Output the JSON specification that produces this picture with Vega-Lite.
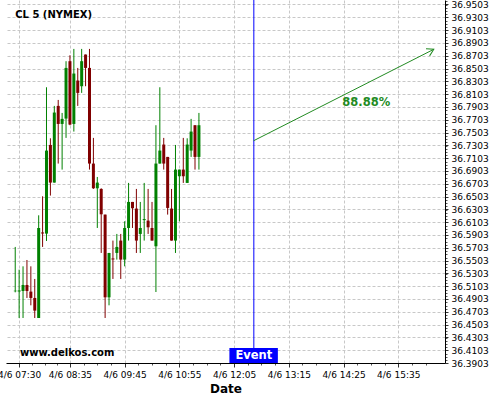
{
  "$schema": "https://vega.github.io/schema/vega-lite/v6.json",
  "width": 439,
  "height": 363,
  "autosize": {"type": "none"},
  "padding": {"left": 6, "top": 0, "right": 55, "bottom": 37},
  "background": "#ffffff",
  "config": {"view": {"stroke": null}, "font": "DejaVu Sans"},
  "datasets": {
    "candles": [
      {"t": "2024-04-06T07:25", "o": 36.5024, "h": 36.5716, "l": 36.5007, "c": 36.5032},
      {"t": "2024-04-06T07:30", "o": 36.5020, "h": 36.5361, "l": 36.4606, "c": 36.5036},
      {"t": "2024-04-06T07:35", "o": 36.5028, "h": 36.5413, "l": 36.4606, "c": 36.5122},
      {"t": "2024-04-06T07:40", "o": 36.5122, "h": 36.5512, "l": 36.4919, "c": 36.5028},
      {"t": "2024-04-06T07:45", "o": 36.5018, "h": 36.5413, "l": 36.4804, "c": 36.4919},
      {"t": "2024-04-06T07:50", "o": 36.4919, "h": 36.5216, "l": 36.4606, "c": 36.4721},
      {"t": "2024-04-06T07:55", "o": 36.4606, "h": 36.6210, "l": 36.4606, "c": 36.6012},
      {"t": "2024-04-06T08:00", "o": 36.5942, "h": 36.6507, "l": 36.5716, "c": 36.5926},
      {"t": "2024-04-06T08:05", "o": 36.5924, "h": 36.8210, "l": 36.5809, "c": 36.7221},
      {"t": "2024-04-06T08:10", "o": 36.7309, "h": 36.7413, "l": 36.6518, "c": 36.6721},
      {"t": "2024-04-06T08:15", "o": 36.6721, "h": 36.7919, "l": 36.6721, "c": 36.7815},
      {"t": "2024-04-06T08:20", "o": 36.7919, "h": 36.8012, "l": 36.7018, "c": 36.7637},
      {"t": "2024-04-06T08:25", "o": 36.7637, "h": 36.7809, "l": 36.6924, "c": 36.7716},
      {"t": "2024-04-06T08:30", "o": 36.7721, "h": 36.8617, "l": 36.7419, "c": 36.8512},
      {"t": "2024-04-06T08:35", "o": 36.8617, "h": 36.8710, "l": 36.7617, "c": 36.7627},
      {"t": "2024-04-06T08:40", "o": 36.7637, "h": 36.8809, "l": 36.7518, "c": 36.8424},
      {"t": "2024-04-06T08:45", "o": 36.8315, "h": 36.8512, "l": 36.7919, "c": 36.8122},
      {"t": "2024-04-06T08:50", "o": 36.8226, "h": 36.8809, "l": 36.8122, "c": 36.8617},
      {"t": "2024-04-06T08:55", "o": 36.8721, "h": 36.8721, "l": 36.8226, "c": 36.8512},
      {"t": "2024-04-06T09:00", "o": 36.8512, "h": 36.8809, "l": 36.6924, "c": 36.7018},
      {"t": "2024-04-06T09:05", "o": 36.7018, "h": 36.7419, "l": 36.6622, "c": 36.6632},
      {"t": "2024-04-06T09:10", "o": 36.6632, "h": 36.6809, "l": 36.6012, "c": 36.6721},
      {"t": "2024-04-06T09:15", "o": 36.6622, "h": 36.6632, "l": 36.5622, "c": 36.6226},
      {"t": "2024-04-06T09:20", "o": 36.6221, "h": 36.6221, "l": 36.4606, "c": 36.4929},
      {"t": "2024-04-06T09:25", "o": 36.4929, "h": 36.5622, "l": 36.4804, "c": 36.5622},
      {"t": "2024-04-06T09:30", "o": 36.5536, "h": 36.5815, "l": 36.5216, "c": 36.5520},
      {"t": "2024-04-06T09:35", "o": 36.5622, "h": 36.5919, "l": 36.5518, "c": 36.5716},
      {"t": "2024-04-06T09:40", "o": 36.5815, "h": 36.5919, "l": 36.5216, "c": 36.5518},
      {"t": "2024-04-06T09:45", "o": 36.5518, "h": 36.6117, "l": 36.5413, "c": 36.6012},
      {"t": "2024-04-06T09:50", "o": 36.6012, "h": 36.6716, "l": 36.5815, "c": 36.6419},
      {"t": "2024-04-06T09:55", "o": 36.6419, "h": 36.6419, "l": 36.6012, "c": 36.6320},
      {"t": "2024-04-06T10:00", "o": 36.6315, "h": 36.6622, "l": 36.5622, "c": 36.5815},
      {"t": "2024-04-06T10:05", "o": 36.5919, "h": 36.6419, "l": 36.5622, "c": 36.6012},
      {"t": "2024-04-06T10:10", "o": 36.6135, "h": 36.6716, "l": 36.5815, "c": 36.6151},
      {"t": "2024-04-06T10:15", "o": 36.6127, "h": 36.6622, "l": 36.5919, "c": 36.6023},
      {"t": "2024-04-06T10:20", "o": 36.6012, "h": 36.6419, "l": 36.5815, "c": 36.5815},
      {"t": "2024-04-06T10:25", "o": 36.5726, "h": 36.7617, "l": 36.5012, "c": 36.7018},
      {"t": "2024-04-06T10:30", "o": 36.7018, "h": 36.8210, "l": 36.7018, "c": 36.7221},
      {"t": "2024-04-06T10:35", "o": 36.7315, "h": 36.7419, "l": 36.6924, "c": 36.7018},
      {"t": "2024-04-06T10:40", "o": 36.7122, "h": 36.7122, "l": 36.6221, "c": 36.6325},
      {"t": "2024-04-06T10:45", "o": 36.6315, "h": 36.6622, "l": 36.5815, "c": 36.5815},
      {"t": "2024-04-06T10:50", "o": 36.5815, "h": 36.7309, "l": 36.5622, "c": 36.6924},
      {"t": "2024-04-06T10:55", "o": 36.6820, "h": 36.6924, "l": 36.6117, "c": 36.6924},
      {"t": "2024-04-06T11:00", "o": 36.6924, "h": 36.7419, "l": 36.6716, "c": 36.6820},
      {"t": "2024-04-06T11:05", "o": 36.6716, "h": 36.7413, "l": 36.6716, "c": 36.7315},
      {"t": "2024-04-06T11:10", "o": 36.7221, "h": 36.7716, "l": 36.7122, "c": 36.7518},
      {"t": "2024-04-06T11:15", "o": 36.7617, "h": 36.7617, "l": 36.6924, "c": 36.7122},
      {"t": "2024-04-06T11:20", "o": 36.7122, "h": 36.7809, "l": 36.6924, "c": 36.7617}
    ],
    "event": [{"t": "2024-04-06T12:30:15", "t0": "2024-04-06T11:59", "t1": "2024-04-06T13:01", "y0": 36.3903, "y1": 36.4137, "ym": 36.4012, "label": "Event"}],
    "arrow": [
      {"t": "2024-04-06T12:30", "v": 36.7375},
      {"t": "2024-04-06T16:20:30", "v": 36.8803}
    ],
    "arrowhead": [{"t": "2024-04-06T16:20:30", "v": 36.8803}],
    "pct": [{"t": "2024-04-06T14:54", "v": 36.7969, "label": "88.88%"}],
    "title": [{"t": "2024-04-06T07:25", "v": 36.9331, "label": "CL 5 (NYMEX)"}],
    "mark": [{"t": "2024-04-06T07:31", "v": 36.4067, "label": "www.delkos.com"}]
  },
  "resolve": {"axis": {"x": "independent", "y": "independent"}},
  "layer": [
    {
      "data": {"name": "candles"},
      "mark": {"type": "point", "opacity": 0},
      "encoding": {
        "x": {"field": "t", "type": "temporal",
          "scale": {"domain": [{"year": 2024, "month": 4, "date": 6, "hours": 7, "minutes": 19, "seconds": 36}, {"year": 2024, "month": 4, "date": 6, "hours": 16, "minutes": 28, "seconds": 24}]},
          "axis": {"orient": "bottom", "grid": false, "labels": false, "title": null, "domain": false, "tickSize": 2, "tickColor": "#555555",
            "values": [
              {"year": 2024, "month": 4, "date": 6, "hours": 7, "minutes": 46, "seconds": 15},
              {"year": 2024, "month": 4, "date": 6, "hours": 8, "minutes": 2, "seconds": 30},
              {"year": 2024, "month": 4, "date": 6, "hours": 8, "minutes": 18, "seconds": 45},
              {"year": 2024, "month": 4, "date": 6, "hours": 8, "minutes": 52, "seconds": 30},
              {"year": 2024, "month": 4, "date": 6, "hours": 9, "minutes": 10},
              {"year": 2024, "month": 4, "date": 6, "hours": 9, "minutes": 27, "seconds": 30},
              {"year": 2024, "month": 4, "date": 6, "hours": 10, "minutes": 2, "seconds": 30},
              {"year": 2024, "month": 4, "date": 6, "hours": 10, "minutes": 20},
              {"year": 2024, "month": 4, "date": 6, "hours": 10, "minutes": 37, "seconds": 30},
              {"year": 2024, "month": 4, "date": 6, "hours": 11, "minutes": 12, "seconds": 30},
              {"year": 2024, "month": 4, "date": 6, "hours": 11, "minutes": 30},
              {"year": 2024, "month": 4, "date": 6, "hours": 11, "minutes": 47, "seconds": 30},
              {"year": 2024, "month": 4, "date": 6, "hours": 12, "minutes": 22, "seconds": 30},
              {"year": 2024, "month": 4, "date": 6, "hours": 12, "minutes": 40},
              {"year": 2024, "month": 4, "date": 6, "hours": 12, "minutes": 57, "seconds": 30},
              {"year": 2024, "month": 4, "date": 6, "hours": 13, "minutes": 32, "seconds": 30},
              {"year": 2024, "month": 4, "date": 6, "hours": 13, "minutes": 50},
              {"year": 2024, "month": 4, "date": 6, "hours": 14, "minutes": 7, "seconds": 30},
              {"year": 2024, "month": 4, "date": 6, "hours": 14, "minutes": 42, "seconds": 30},
              {"year": 2024, "month": 4, "date": 6, "hours": 15, "minutes": 0},
              {"year": 2024, "month": 4, "date": 6, "hours": 15, "minutes": 17, "seconds": 30},
              {"year": 2024, "month": 4, "date": 6, "hours": 15, "minutes": 52, "seconds": 30},
              {"year": 2024, "month": 4, "date": 6, "hours": 16, "minutes": 10}
            ]}},
        "y": {"field": "c", "type": "quantitative",
          "scale": {"domain": [36.3903, 36.9573], "zero": false, "nice": false},
          "axis": {"orient": "right", "grid": false, "labels": false, "title": null, "domain": false, "tickSize": 2, "tickColor": "#555555", "tickCount": 120}}
      }
    },
    {
      "data": {"name": "candles"},
      "mark": {"type": "rule", "strokeWidth": 1},
      "encoding": {
        "x": {"field": "t", "type": "temporal",
          "axis": {
            "orient": "bottom",
            "values": [
              {"year": 2024, "month": 4, "date": 6, "hours": 7, "minutes": 30},
              {"year": 2024, "month": 4, "date": 6, "hours": 8, "minutes": 35},
              {"year": 2024, "month": 4, "date": 6, "hours": 9, "minutes": 45},
              {"year": 2024, "month": 4, "date": 6, "hours": 10, "minutes": 55},
              {"year": 2024, "month": 4, "date": 6, "hours": 12, "minutes": 5},
              {"year": 2024, "month": 4, "date": 6, "hours": 13, "minutes": 15},
              {"year": 2024, "month": 4, "date": 6, "hours": 14, "minutes": 25},
              {"year": 2024, "month": 4, "date": 6, "hours": 15, "minutes": 35}
            ],
            "format": "%-m/%-d %H:%M",
            "labelFont": "DejaVu Sans", "labelFontSize": 9, "labelColor": "#000000",
            "labelPadding": 3, "labelOverlap": false, "labelFlush": false, "labelBound": false,
            "tickSize": 4, "tickColor": "#333333",
            "domainColor": "#000000", "domainWidth": 1,
            "grid": true, "gridColor": "#c8c8c8", "gridDash": [3, 2], "gridWidth": 1,
            "title": "Date", "titleFont": "DejaVu Sans", "titleFontSize": 12, "titleFontWeight": "bold", "titleColor": "#000000", "titlePadding": 4
          }},
        "y": {"field": "l", "type": "quantitative",
          "axis": {
            "orient": "right",
            "values": [36.3903, 36.4103, 36.4303, 36.4503, 36.4703, 36.4903, 36.5103, 36.5303, 36.5503, 36.5703, 36.5903, 36.6103, 36.6303, 36.6503, 36.6703, 36.6903, 36.7103, 36.7303, 36.7503, 36.7703, 36.7903, 36.8103, 36.8303, 36.8503, 36.8703, 36.8903, 36.9103, 36.9303, 36.9503],
            "format": ".4f",
            "labelFont": "DejaVu Sans", "labelFontSize": 9, "labelColor": "#000000",
            "labelPadding": 3, "labelOverlap": false, "labelFlush": false, "labelBound": false,
            "tickSize": 3, "tickColor": "#333333",
            "domainColor": "#000000", "domainWidth": 1,
            "grid": true, "gridColor": "#c8c8c8", "gridDash": [3, 2], "gridWidth": 1,
            "title": null
          }},
        "y2": {"field": "h"},
        "color": {"condition": {"test": "datum.c >= datum.o", "value": "#008000"}, "value": "#800000"}
      }
    },
    {
      "data": {"name": "candles"},
      "mark": {"type": "bar", "width": 3},
      "encoding": {
        "x": {"field": "t", "type": "temporal", "axis": null},
        "y": {"field": "o", "type": "quantitative", "axis": null},
        "y2": {"field": "c"},
        "color": {"condition": {"test": "datum.c >= datum.o", "value": "#008000"}, "value": "#800000"}
      }
    },
    {
      "data": {"name": "event"},
      "mark": {"type": "rule", "color": "#0000ff", "strokeWidth": 1},
      "encoding": {
        "x": {"field": "t", "type": "temporal", "axis": null}
      }
    },
    {
      "data": {"name": "event"},
      "mark": {"type": "rect", "color": "#0000ff"},
      "encoding": {
        "x": {"field": "t0", "type": "temporal", "axis": null},
        "x2": {"field": "t1"},
        "y": {"field": "y0", "type": "quantitative", "axis": null},
        "y2": {"field": "y1"}
      }
    },
    {
      "data": {"name": "event"},
      "mark": {"type": "text", "color": "#ffffff", "font": "DejaVu Sans", "fontSize": 11.5, "fontWeight": "bold", "align": "center", "baseline": "middle"},
      "encoding": {
        "x": {"field": "t", "type": "temporal", "axis": null},
        "y": {"field": "ym", "type": "quantitative", "axis": null},
        "text": {"field": "label"}
      }
    },
    {
      "data": {"name": "arrow"},
      "mark": {"type": "line", "color": "#228b22", "strokeWidth": 1},
      "encoding": {
        "x": {"field": "t", "type": "temporal", "axis": null},
        "y": {"field": "v", "type": "quantitative", "axis": null}
      }
    },
    {
      "data": {"name": "arrowhead"},
      "mark": {"type": "point", "shape": "M-1,-0.6L0,0L-1,0.6", "filled": false, "stroke": "#228b22", "strokeWidth": 1, "size": 180, "angle": -26.3, "opacity": 1},
      "encoding": {
        "x": {"field": "t", "type": "temporal", "axis": null},
        "y": {"field": "v", "type": "quantitative", "axis": null}
      }
    },
    {
      "data": {"name": "pct"},
      "mark": {"type": "text", "color": "#228b22", "font": "DejaVu Sans", "fontSize": 11.5, "fontWeight": "bold", "align": "center", "baseline": "middle"},
      "encoding": {
        "x": {"field": "t", "type": "temporal", "axis": null},
        "y": {"field": "v", "type": "quantitative", "axis": null},
        "text": {"field": "label"}
      }
    },
    {
      "data": {"name": "title"},
      "mark": {"type": "text", "color": "#000000", "font": "DejaVu Sans", "fontSize": 10, "fontWeight": "bold", "align": "left", "baseline": "middle"},
      "encoding": {
        "x": {"field": "t", "type": "temporal", "axis": null},
        "y": {"field": "v", "type": "quantitative", "axis": null},
        "text": {"field": "label"}
      }
    },
    {
      "data": {"name": "mark"},
      "mark": {"type": "text", "color": "#000000", "font": "DejaVu Sans", "fontSize": 10, "fontWeight": "bold", "align": "left", "baseline": "middle"},
      "encoding": {
        "x": {"field": "t", "type": "temporal", "axis": null},
        "y": {"field": "v", "type": "quantitative", "axis": null},
        "text": {"field": "label"}
      }
    }
  ]
}
